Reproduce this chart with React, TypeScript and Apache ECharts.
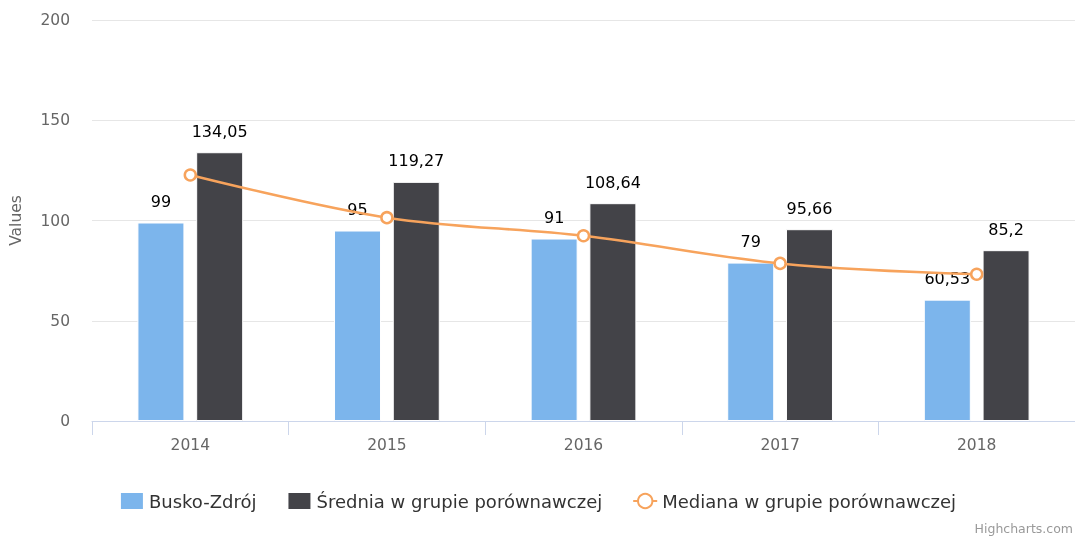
import React, { useEffect, useRef } from "react";
import * as echarts from "echarts";

const categories = ["2014", "2015", "2016", "2017", "2018"];
const buskoValues = [99, 95, 91, 79, 60.53];
const sredniaValues = [134.05, 119.27, 108.64, 95.66, 85.2];
const medianaValues = [122.7, 101.4, 92.4, 78.6, 73.2];
const yTicks = { min: 0, max: 200, interval: 50 };

const FONT = "'DejaVu Sans', Verdana, sans-serif";
const fmt = (v: number) => String(v).replace(".", ",");

export default function App() {
  const ref = useRef<HTMLDivElement>(null);
  useEffect(() => {
    if (!ref.current) return;
    const chart = echarts.init(ref.current, null, { renderer: "svg" });
    const labelBase = {
      show: true,
      position: "top",
      distance: 13,
      color: "#000",
      fontSize: 16,
      fontFamily: FONT,
      formatter: (p: any) => fmt(p.value),
    };
    chart.setOption({
      animation: false,
      textStyle: { fontFamily: FONT },
      grid: { left: 92, right: 0, top: 20, bottom: 117, containLabel: false },
      legend: {
        left: "center",
        top: 486,
        itemWidth: 24,
        itemHeight: 18,
        itemGap: 30,
        textStyle: { fontSize: 18, color: "#333", fontFamily: FONT },
        data: [
          { name: "Busko-Zdrój", icon: "rect" },
          { name: "Średnia w grupie porównawczej", icon: "rect" },
          { name: "Mediana w grupie porównawczej" },
        ],
      },
      xAxis: {
        type: "category",
        data: categories,
        axisLine: { lineStyle: { color: "#ccd6eb", width: 1 } },
        axisTick: { show: true, length: 14, lineStyle: { color: "#ccd6eb" } },
        axisLabel: { color: "#666", fontSize: 15.5, margin: 16, fontFamily: FONT },
      },
      yAxis: {
        type: "value",
        min: yTicks.min,
        max: yTicks.max,
        interval: yTicks.interval,
        name: "Values",
        nameLocation: "middle",
        nameGap: 68,
        nameTextStyle: { color: "#666", fontSize: 15.5, fontFamily: FONT },
        axisLine: { show: false },
        axisTick: { show: false },
        splitLine: { lineStyle: { color: "#e6e6e6", width: 1 } },
        axisLabel: { color: "#666", fontSize: 15.5, margin: 22, fontFamily: FONT },
      },
      series: [
        {
          name: "Busko-Zdrój",
          type: "bar",
          barWidth: 47,
          barGap: "25%",
          itemStyle: { color: "#7cb5ec", borderColor: "#fff", borderWidth: 1 },
          label: labelBase,
          data: buskoValues,
          z: 2,
        },
        {
          name: "Średnia w grupie porównawczej",
          type: "bar",
          barWidth: 47,
          barGap: "25%",
          itemStyle: { color: "#434348", borderColor: "#fff", borderWidth: 1 },
          label: labelBase,
          data: sredniaValues,
          z: 2,
        },
        {
          name: "Mediana w grupie porównawczej",
          type: "line",
          smooth: 0.35,
          data: medianaValues,
          symbol: "circle",
          symbolSize: 11,
          lineStyle: { color: "#f7a35c", width: 2.5 },
          itemStyle: { color: "#fff", borderColor: "#f7a35c", borderWidth: 2.5 },
          z: 3,
        },
      ],
      graphic: [
        {
          type: "text",
          right: 2,
          top: 522,
          style: { text: "Highcharts.com", fill: "#999", fontSize: 12.5, fontFamily: FONT },
        },
      ],
    });
    return () => chart.dispose();
  }, []);
  return (
    <div
      ref={ref}
      style={{ position: "fixed", left: 0, top: 0, width: 1075, height: 538 }}
    />
  );
}
